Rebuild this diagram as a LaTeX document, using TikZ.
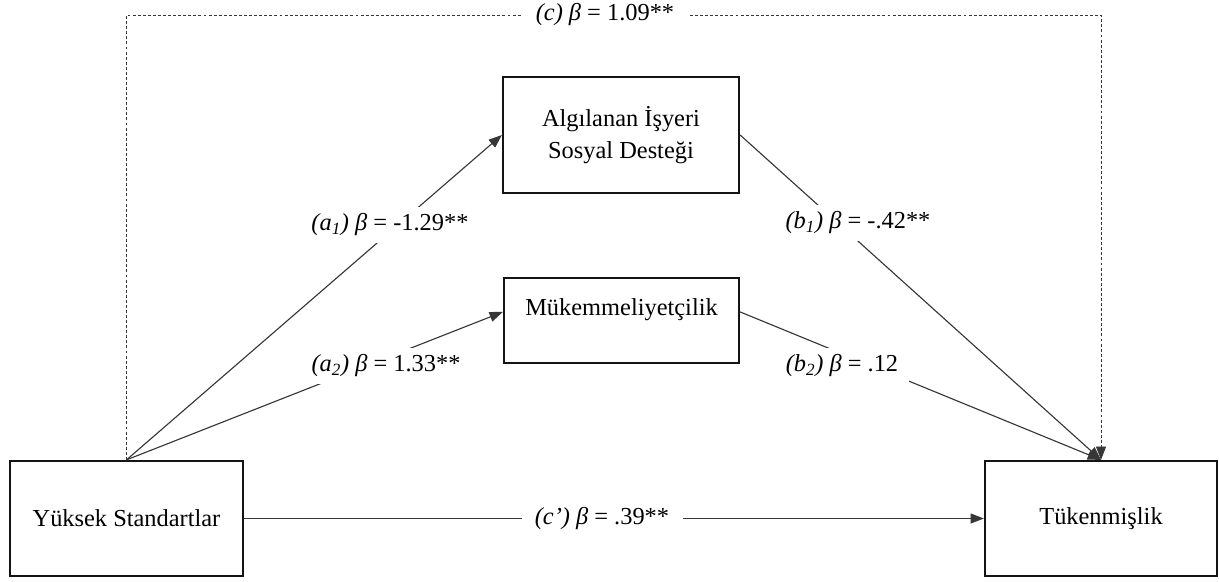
\documentclass[tikz,border=0pt]{standalone}
\usepackage{fontspec}
\setmainfont{Liberation Serif}
\usepackage{xcolor}
\usetikzlibrary{arrows.meta}
\newcommand{\modelFont}{\fontsize{18.3}{24}\selectfont}
\newcommand{\pathCoef}[2]{\textit{(#1)} \textit{β} = #2}
\definecolor{boxLine}{RGB}{20,20,20}
\definecolor{lineMain}{RGB}{55,55,55}
\tikzset{
  modelNode/.style={
    draw=boxLine,
    line width=1.7pt,
    align=center,
    inner sep=0pt,
    font=\modelFont
  },
  pathFlow/.style={-{Triangle[length=10pt,width=7.5pt]}, line width=0.85pt, draw=lineMain},
  totalFlow/.style={pathFlow, line width=0.6pt, dash pattern=on 2.2pt off 1.6pt},
  coefLabel/.style={fill=white, inner xsep=8pt, inner ysep=5pt, font=\modelFont}
}

\begin{document}
\begin{tikzpicture}[x=0.75pt, y=-0.75pt]
  \useasboundingbox (0,0) rectangle (1219,581);

  \node[modelNode, minimum width=174.75pt, minimum height=86.25pt] (yuk) at (126.5,518.5) {Yüksek Standartlar};
  \node[modelNode, minimum width=174pt, minimum height=86.25pt] (tuk) at (1101,518.5) {Tükenmişlik};
  \node[modelNode, minimum width=177pt, minimum height=87pt] (alg) at (621,135) {Algılanan İşyeri\\Sosyal Desteği};
  \node[modelNode, minimum width=176.25pt, text height=27.75pt, text depth=36pt, anchor=base] (muk) at (621.5,315) {Mükemmeliyetçilik};

  \draw[pathFlow] (yuk.north) -- (alg.west);
  \draw[pathFlow] (yuk.north) -- (muk.mid west);
  \draw[pathFlow] (alg.east) -- (tuk.north);
  \draw[pathFlow] (muk.mid east) -- (tuk.north);
  \draw[pathFlow] (yuk.east) -- (tuk.west);
  \coordinate (cTop) at (605,15);
  \draw[totalFlow] (yuk.north) |- (cTop) -| (tuk.north);

  \node[coefLabel] (labA1) at (390,225) {\pathCoef{a\textsubscript{1}}{-1.29**}};
  \node[coefLabel] (labA2) at (386,366) {\pathCoef{a\textsubscript{2}}{1.33**}};
  \node[coefLabel] (labB1) at (858,223) {\pathCoef{b\textsubscript{1}}{-.42**}};
  \node[coefLabel] (labB2) at (842,366) {\pathCoef{b\textsubscript{2}}{.12}};
  \node[coefLabel, inner xsep=10pt] (labC) at (cTop) {\pathCoef{c}{1.09**}};
  \node[coefLabel, inner xsep=10pt] (labCp) at (602,518.5) {\pathCoef{c’}{.39**}};
\end{tikzpicture}
\end{document}
